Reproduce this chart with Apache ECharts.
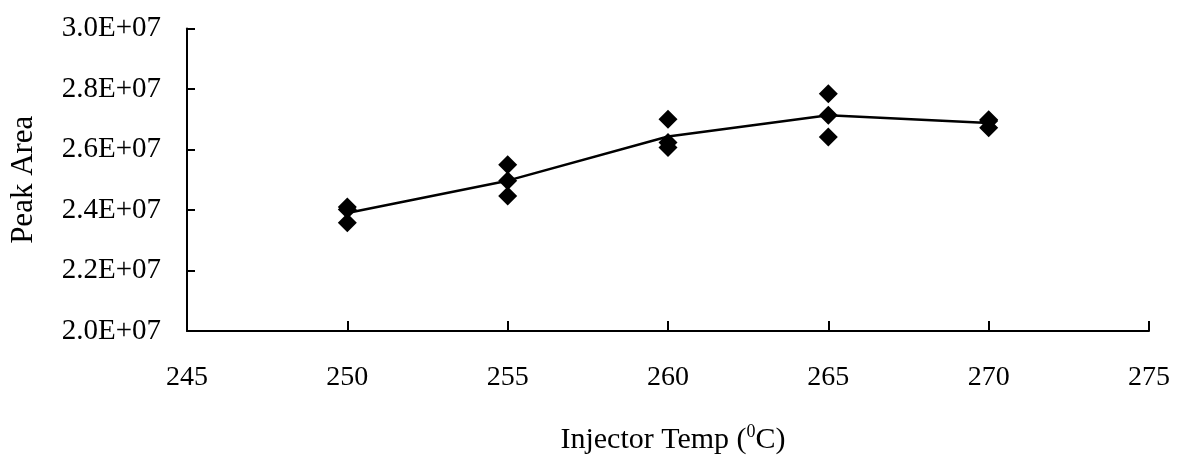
<!DOCTYPE html>
<html>
<head>
<meta charset="utf-8">
<script src="https://cdn.jsdelivr.net/npm/echarts@6/dist/echarts.min.js"></script>
<style>html,body{margin:0;padding:0;background:#fff;}#c{width:1187px;height:460px;}</style>
</head>
<body>
<div id="c"></div>
<script>
// Injector temperature (°C)
var temps = [250, 255, 260, 265, 270];
// Replicate peak areas
var rep1 = [2.410e7, 2.550e7, 2.700e7, 2.784e7, 2.698e7];
var rep2 = [2.402e7, 2.497e7, 2.623e7, 2.713e7, 2.694e7];
var rep3 = [2.358e7, 2.446e7, 2.607e7, 2.641e7, 2.672e7];
// Mean line
var meanLine = [2.390e7, 2.497e7, 2.643e7, 2.713e7, 2.688e7];
// Axis tick labels
var xTicks = [245, 250, 255, 260, 265, 270, 275];
var yTickLabels = ['2.0E+07', '2.2E+07', '2.4E+07', '2.6E+07', '2.8E+07', '3.0E+07'];

var font = '"Liberation Serif", "Times New Roman", serif';
var scatterPts = [];
[rep1, rep2, rep3].forEach(function (r) {
  r.forEach(function (v, i) { scatterPts.push([temps[i], v]); });
});
var linePts = meanLine.map(function (v, i) { return [temps[i], v]; });

var chart = echarts.init(document.getElementById('c'));
chart.setOption({
  animation: false,
  backgroundColor: '#fff',
  grid: { left: 183, right: 38, top: 28.5, bottom: 127 },
  xAxis: {
    type: 'value',
    min: xTicks[0], max: xTicks[xTicks.length - 1], interval: 5,
    name: '{a|Injector Temp (}{s|0}{a|C)}',
    nameLocation: 'middle',
    nameGap: 92,
    nameTextStyle: {
      padding: [0, 0, 0, 10],
      rich: {
        a: { fontFamily: font, fontSize: 30, color: '#000' },
        s: { fontFamily: font, fontSize: 18, color: '#000', verticalAlign: 'top', padding: [0, 0, 16, 0] }
      }
    },
    axisLine: { lineStyle: { color: '#000', width: 2 } },
    axisTick: { inside: true, length: 10, lineStyle: { color: '#000', width: 2 } },
    axisLabel: { fontFamily: font, fontSize: 28, color: '#000', margin: 33 },
    splitLine: { show: false }
  },
  yAxis: {
    type: 'value',
    min: 2.0e7, max: 3.0e7, interval: 0.2e7,
    name: 'Peak Area',
    nameLocation: 'middle',
    nameGap: 148,
    nameTextStyle: { fontFamily: font, fontSize: 31, color: '#000' },
    axisLine: { show: true, lineStyle: { color: '#000', width: 2 } },
    axisTick: { show: true, inside: true, length: 8, lineStyle: { color: '#000', width: 2 } },
    axisLabel: {
      fontFamily: font, fontSize: 29, color: '#000', margin: 26,
      formatter: function (v) {
        var idx = Math.round((v - 2.0e7) / 0.2e7);
        return yTickLabels[idx];
      }
    },
    splitLine: { show: false }
  },
  series: [
    {
      type: 'line',
      data: linePts,
      symbol: 'none',
      lineStyle: { color: '#000', width: 2.5 },
      z: 2
    },
    {
      type: 'scatter',
      data: scatterPts,
      symbol: 'diamond',
      symbolSize: [19, 19],
      itemStyle: { color: '#000', opacity: 1 },
      z: 3
    }
  ]
});
</script>
</body>
</html>
